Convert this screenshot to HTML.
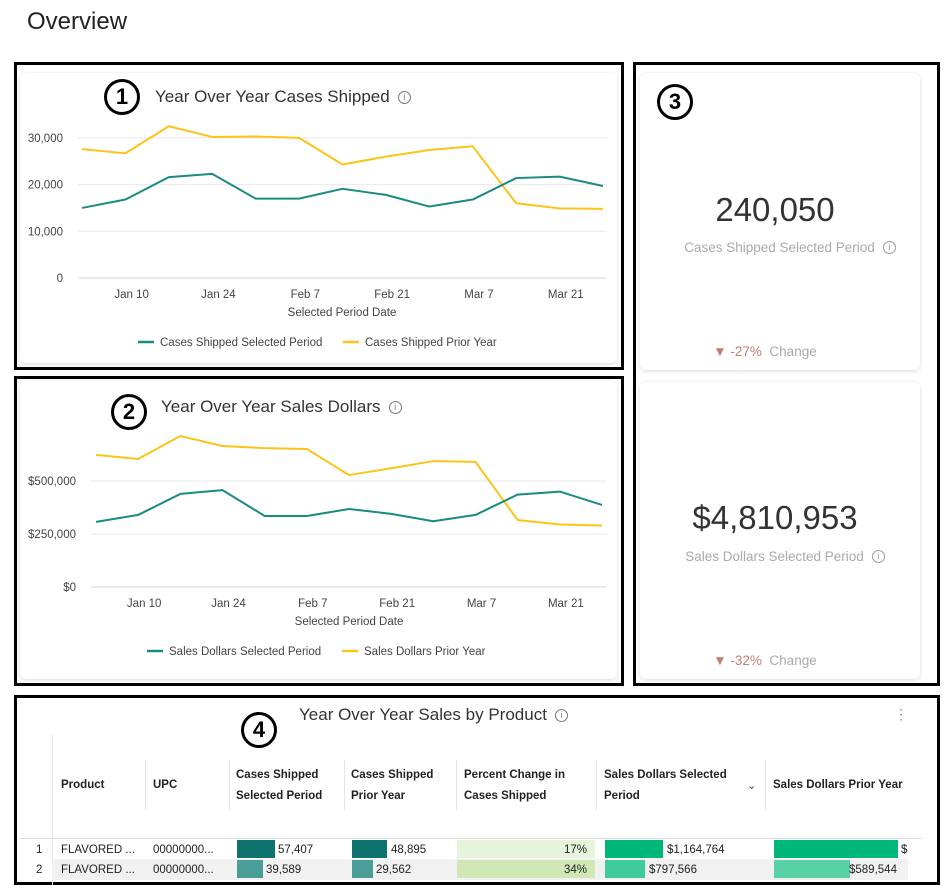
<!DOCTYPE html>
<html><head><meta charset="utf-8">
<style>
body{margin:0;width:952px;height:885px;background:#fff;font-family:"Liberation Sans",sans-serif;position:relative;overflow:hidden;}
.abs{position:absolute;}
.box{position:absolute;border:3px solid #000;box-sizing:border-box;}
.card{position:absolute;background:#fff;border-radius:6px;box-shadow:0 1px 4px rgba(0,0,0,0.15);}
.circ{position:absolute;width:30px;height:30px;border:3px solid #000;border-radius:50%;text-align:center;line-height:30px;font-size:22px;font-weight:bold;color:#000;background:#fff;}
.title{position:absolute;font-size:17px;color:#333;white-space:nowrap;}
.info{display:inline-block;width:11px;height:11px;border:1.3px solid #777;border-radius:50%;font-size:9px;line-height:11px;text-align:center;color:#777;margin-left:8px;vertical-align:2px;}
.th{position:absolute;font-size:11.5px;font-weight:bold;color:#222;line-height:21px;}
.td{position:absolute;font-size:11.5px;color:#222;line-height:18px;white-space:nowrap;}
.vl{position:absolute;width:1px;background:#e4e4e4;}
</style></head><body>
<div class="abs" style="left:27px;top:8px;font-size:24px;color:#222;">Overview</div>

<div class="box" style="left:14px;top:62px;width:610px;height:308px;"></div>
<div class="card" style="left:20px;top:73px;width:597px;height:290px;"></div>
<div class="circ" style="left:104px;top:79px;">1</div>
<div class="title" style="left:155px;top:87px;">Year Over Year Cases Shipped<span class="info">i</span></div>
<svg id="c1" class="abs" style="left:0;top:0" width="630" height="370"></svg>

<div class="box" style="left:14px;top:376px;width:610px;height:310px;"></div>
<div class="card" style="left:20px;top:381px;width:597px;height:298px;"></div>
<div class="circ" style="left:111px;top:394px;">2</div>
<div class="title" style="left:161px;top:397px;">Year Over Year Sales Dollars<span class="info">i</span></div>
<svg id="c2" class="abs" style="left:0;top:0" width="630" height="690"></svg>

<div class="box" style="left:633px;top:62px;width:307px;height:624px;"></div>
<div class="card" style="left:640px;top:73px;width:280px;height:297px;"></div>
<div class="circ" style="left:657px;top:84px;">3</div>
<div class="abs" style="left:640px;width:270px;top:191px;text-align:center;font-size:33px;color:#333;">240,050</div>
<div class="abs" style="left:645px;width:250px;top:240px;text-align:center;font-size:13.5px;color:#aaa;white-space:nowrap;padding-left:20px;">Cases Shipped Selected Period<span class="info" style="border-color:#999;color:#999">i</span></div>
<div class="abs" style="left:640px;width:250px;top:344px;text-align:center;font-size:13.5px;color:#aaa;"><span style="color:#c27b72">▼ -27%</span>&nbsp; Change</div>

<div class="card" style="left:640px;top:382px;width:280px;height:297px;"></div>
<div class="abs" style="left:640px;width:270px;top:499px;text-align:center;font-size:33px;color:#333;">$4,810,953</div>
<div class="abs" style="left:645px;width:240px;top:549px;text-align:center;font-size:13.5px;color:#aaa;white-space:nowrap;padding-left:20px;">Sales Dollars Selected Period<span class="info" style="border-color:#999;color:#999">i</span></div>
<div class="abs" style="left:640px;width:250px;top:653px;text-align:center;font-size:13.5px;color:#aaa;"><span style="color:#c27b72">▼ -32%</span>&nbsp; Change</div>

<div class="box" style="left:14px;top:695px;width:926px;height:190px;"></div>
<div class="card" style="left:20px;top:698px;width:902px;height:184px;box-shadow:none;"></div>
<div class="circ" style="left:241px;top:712px;">4</div>
<div class="title" style="left:299px;top:705px;">Year Over Year Sales by Product<span class="info">i</span></div>
<div class="abs" style="left:894px;top:706px;font-size:14px;color:#888;">⋮</div>
<div class="vl" style="left:52px;top:735px;height:150px;"></div>
<div class="vl" style="left:145px;top:760px;height:50px;"></div>
<div class="vl" style="left:229px;top:760px;height:50px;"></div>
<div class="vl" style="left:344px;top:760px;height:50px;"></div>
<div class="vl" style="left:456px;top:760px;height:50px;"></div>
<div class="vl" style="left:596px;top:760px;height:50px;"></div>
<div class="vl" style="left:765px;top:760px;height:50px;"></div>
<div class="th" style="left:61px;top:775px;">Product</div>
<div class="th" style="left:153px;top:775px;">UPC</div>
<div class="th" style="left:236px;top:765px;">Cases Shipped<br>Selected Period</div>
<div class="th" style="left:351px;top:765px;">Cases Shipped<br>Prior Year</div>
<div class="th" style="left:464px;top:765px;">Percent Change in<br>Cases Shipped</div>
<div class="th" style="left:604px;top:765px;">Sales Dollars Selected<br>Period</div>
<div class="abs" style="left:747px;top:779px;font-size:11px;color:#444;">⌄</div>
<div class="th" style="left:773px;top:775px;">Sales Dollars Prior Year</div>
<div class="abs" style="left:20px;top:838px;width:902px;height:1px;background:#ddd;"></div>
<div class="abs" style="left:52px;top:859px;width:856px;height:21px;background:#f1f1f1;"></div>

<div>
<div class="td" style="left:36px;top:841px;">1</div>
<div class="td" style="left:61px;top:841px;">FLAVORED ...</div>
<div class="td" style="left:153px;top:841px;">00000000...</div>
<div class="abs" style="left:237px;top:840px;width:38px;height:18px;background:#0e736e;"></div>
<div class="td" style="left:278px;top:841px;">57,407</div>
<div class="abs" style="left:352px;top:840px;width:35px;height:18px;background:#0e736e;"></div>
<div class="td" style="left:391px;top:841px;">48,895</div>
<div class="abs" style="left:457px;top:840px;width:138px;height:18px;background:#e6f4dc;"></div>
<div class="td" style="left:457px;width:130px;text-align:right;top:841px;">17%</div>
<div class="abs" style="left:605px;top:840px;width:58px;height:18px;background:#00b77a;"></div>
<div class="td" style="left:667px;top:841px;">$1,164,764</div>
<div class="abs" style="left:774px;top:840px;width:124px;height:18px;background:#00b77a;"></div>
<div class="td" style="left:901px;top:841px;">$</div>
</div>
<div>
<div class="td" style="left:36px;top:861px;">2</div>
<div class="td" style="left:61px;top:861px;">FLAVORED ...</div>
<div class="td" style="left:153px;top:861px;">00000000...</div>
<div class="abs" style="left:237px;top:860px;width:26px;height:18px;background:#4a9e98;"></div>
<div class="td" style="left:266px;top:861px;">39,589</div>
<div class="abs" style="left:352px;top:860px;width:21px;height:18px;background:#4a9e98;"></div>
<div class="td" style="left:376px;top:861px;">29,562</div>
<div class="abs" style="left:457px;top:860px;width:138px;height:18px;background:#d0e8b5;"></div>
<div class="td" style="left:457px;width:130px;text-align:right;top:861px;">34%</div>
<div class="abs" style="left:605px;top:860px;width:40px;height:18px;background:#3fcb9c;"></div>
<div class="td" style="left:649px;top:861px;">$797,566</div>
<div class="abs" style="left:774px;top:860px;width:76px;height:18px;background:#5ad2a8;"></div>
<div class="td" style="left:849px;top:861px;">$589,544</div>
</div>

<script>
const weeks = 13;
const c1Selected = [15000,16800,21600,22300,17000,17000,19100,17800,15300,16800,21400,21700,19700];
const c1Prior = [27600,26700,32500,30200,30300,30000,24300,26000,27400,28200,16000,14900,14800];
const c1Ticks = [0,10000,20000,30000];
const c1TickLabels = ["0","10,000","20,000","30,000"];
const c2Selected = [307000,340000,439000,457000,335000,335000,368000,345000,310000,340000,436000,450000,387000];
const c2Prior = [623000,604000,712000,665000,655000,651000,528000,560000,594000,590000,316000,295000,290000];
const c2Ticks = [0,250000,500000];
const c2TickLabels = ["$0","$250,000","$500,000"];
const dateTicks = ["Jan 10","Jan 24","Feb 7","Feb 21","Mar 7","Mar 21"];
const dateTickDays = [8,22,36,50,64,78];

const NS="http://www.w3.org/2000/svg";
function mk(svg,tag,attrs,text){const e=document.createElementNS(NS,tag);for(const k in attrs)e.setAttribute(k,attrs[k]);if(text!=null)e.textContent=text;svg.appendChild(e);return e;}

function draw(id,cfg){
  const svg=document.getElementById(id);
  const xs=d=>cfg.x0+(cfg.x1-cfg.x0)*d/((weeks-1)*7);
  const ys=v=>cfg.yb-(v/cfg.unit)*cfg.upx;
  cfg.ticks.forEach((t,i)=>{
    const g=mk(svg,'line',{x1:cfg.gx0,x2:cfg.gx1,y1:ys(t),y2:ys(t),stroke:i==0?'#c8d4e8':'#e8e8e8','stroke-width':1});
    
    
    const l=mk(svg,'text',{x:cfg.lx,y:ys(t)+4,'text-anchor':'end','font-size':11.5,fill:'#444'},cfg.labels[i]);
    
    
  });
  dateTicks.forEach((t,i)=>{
    const l=mk(svg,'text',{x:xs(dateTickDays[i]),y:cfg.yb+20,'text-anchor':'middle','font-size':11.5,fill:'#444'},t);
    
    
  });
  const at=mk(svg,'text',{x:cfg.axx,y:cfg.yb+38,'text-anchor':'middle','font-size':11.5,fill:'#444'},'Selected Period Date');
  
  
  [[cfg.prior,'#fcc419','series-prior-year'],[cfg.sel,'#1b8a80','series-selected-period']].forEach(([arr,c,n])=>{
    const p=mk(svg,'polyline',{points:arr.map((v,i)=>xs(i*7)+','+ys(v)).join(' '),fill:'none',stroke:c,'stroke-width':2,'stroke-linejoin':'round'});
    
    
  });
  cfg.legend.forEach((L,i)=>{
    const g=mk(svg,'g',{});
    
    
    mk(g,'line',{x1:L[0],x2:L[0]+16,y1:cfg.ly,y2:cfg.ly,stroke:L[2],'stroke-width':2.5});
    mk(g,'text',{x:L[0]+22,y:cfg.ly+4,'font-size':11.5,fill:'#444'},L[1]);
  });
}
draw('c1',{x0:82,x1:603,gx0:78,gx1:607,yb:278,unit:10000,upx:46.7,ticks:c1Ticks,labels:c1TickLabels,lx:63,sel:c1Selected,prior:c1Prior,axx:342,
  legend:[[138,'Cases Shipped Selected Period','#1b8a80'],[343,'Cases Shipped Prior Year','#fcc419']],ly:342});
draw('c2',{x0:96,x1:602,gx0:91,gx1:607,yb:587,unit:250000,upx:53,ticks:c2Ticks,labels:c2TickLabels,lx:76,sel:c2Selected,prior:c2Prior,axx:349,
  legend:[[147,'Sales Dollars Selected Period','#1b8a80'],[342,'Sales Dollars Prior Year','#fcc419']],ly:651});
</script>
</body></html>
